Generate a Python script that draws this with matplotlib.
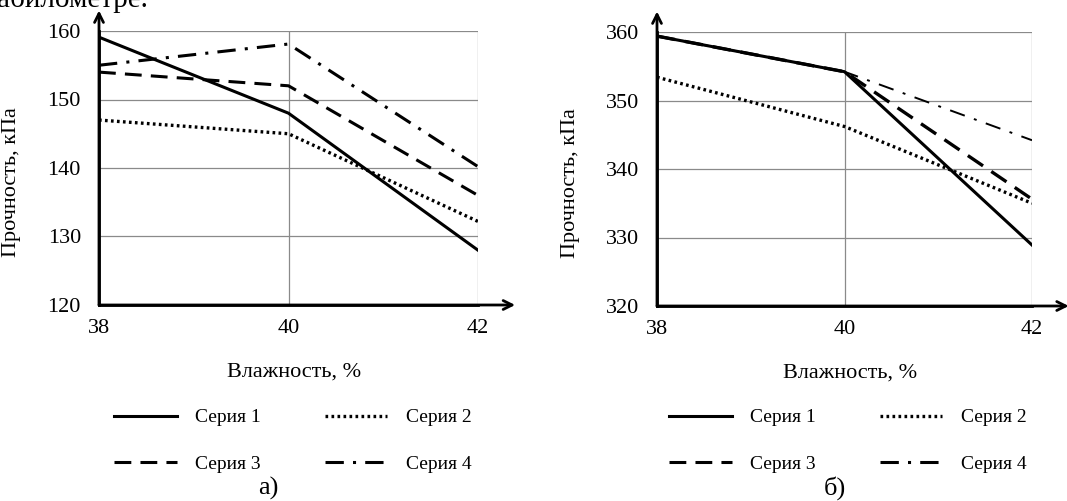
import matplotlib
matplotlib.use("Agg")
import matplotlib.pyplot as plt
from matplotlib.lines import Line2D

plt.rcParams['font.family'] = ['Liberation Serif', 'DejaVu Serif']

x_vals = [38, 40, 42]
series_names = ["Серия 1", "Серия 2", "Серия 3", "Серия 4"]

# chart a)
a_s1 = [159.1, 148.0, 128.0]
a_s2 = [147.0, 145.0, 132.2]
a_s3 = [154.0, 152.0, 136.0]
a_s4 = [155.0, 158.1, 140.2]
a_yticks = [120, 130, 140, 150, 160]

# chart b)
b_s1 = [359.4, 354.2, 328.9]
b_s2 = [353.4, 346.2, 335.0]
b_s3 = [359.4, 354.2, 335.6]
b_s4 = [359.4, 354.2, 344.2]
b_yticks = [320, 330, 340, 350, 360]

xticks = [38, 40, 42]
W, H = 1067, 501
fig = plt.figure(figsize=(W / 100, H / 100), dpi=100)

fs_tick = 16
fs_lab = 16
fs_leg = 14

styles = [
    dict(color='black', lw=2.2, linestyle='-'),
    dict(color='black', lw=2.4, linestyle=(0, (0.8, 1.0))),
    dict(color='black', lw=2.2, linestyle=(0, (5.5, 3.0))),
    dict(color='black', lw=2.2, linestyle=(0, (6, 3, 1, 3))),
]


def make_ax(px_left, px_right, px_top, px_bottom, series, yticks, style_list, sub, legend_cx):
    ax = fig.add_axes([px_left / W, 1 - px_bottom / H, (px_right - px_left) / W, (px_bottom - px_top) / H])
    order = [3, 2, 1, 0]
    for i in order:
        ax.plot(x_vals, series[i], label=series_names[i], **style_list[i], zorder=3 + (4 - i))
    ax.set_xlim(38, 42)
    ax.set_ylim(yticks[0], yticks[-1])
    ax.set_xticks(xticks)
    ax.set_yticks(yticks)
    ax.grid(True, color='#8a8a8a', lw=0.9)
    ax.set_axisbelow(True)
    for s in ['top', 'right']:
        ax.spines[s].set_visible(False)
    ax.spines['left'].set_linewidth(2.0)
    ax.spines['bottom'].set_linewidth(2.0)
    ax.tick_params(length=0, labelsize=fs_tick)
    ax.tick_params(axis='y', pad=13)
    ax.tick_params(axis='x', pad=10)
    ax.set_xlabel("Влажность, %", fontsize=fs_lab)
    ax.set_ylabel("Прочность, кПа", fontsize=fs_lab)
    ax.xaxis.set_label_coords(0.515, -0.21)
    ax.yaxis.set_label_coords(-0.205, 0.45)
    ax.annotate('', xy=(0, 1.075), xytext=(0, 0.0), xycoords='axes fraction',
                arrowprops=dict(arrowstyle='->', lw=2.0, color='black', mutation_scale=16,
                                shrinkA=0, shrinkB=0), annotation_clip=False)
    ax.annotate('', xy=(1.098, 0), xytext=(0.0, 0), xycoords='axes fraction',
                arrowprops=dict(arrowstyle='->', lw=2.0, color='black', mutation_scale=16,
                                shrinkA=0, shrinkB=0), annotation_clip=False)
    handles = [Line2D([], [], **styles[i]) for i in range(4)]
    leg_order = [0, 2, 1, 3]
    fig.legend(handles=[handles[i] for i in leg_order],
               labels=[series_names[i] for i in leg_order], ncol=2, frameon=False,
               loc='center', bbox_to_anchor=(legend_cx / W, 1 - 441 / H),
               fontsize=fs_leg, handlelength=3.2, handletextpad=0.95,
               columnspacing=3.3, labelspacing=1.5, borderpad=0)
    fig.text(sub[0] / W, 1 - sub[1] / H, sub[2], ha='center', va='center', fontsize=19)
    return ax


make_ax(99, 478, 31, 305, [a_s1, a_s2, a_s3, a_s4], a_yticks, styles, (268, 488, "а)"), 293)

styles_b = list(styles)
styles_b[3] = dict(color='black', lw=1.4, linestyle=(0, (8, 5, 1.5, 5)))
styles_b[2] = dict(color='black', lw=2.4, linestyle=(0, (5.5, 3.0)))
make_ax(657, 1032, 32, 306, [b_s1, b_s2, b_s3, b_s4], b_yticks, styles_b, (835, 488, "б)"), 848)

fig.text(-0.003, 1 - 7 / H, "абилометре.", fontsize=21, ha='left', va='baseline')

fig.savefig("out.png", dpi=100)
